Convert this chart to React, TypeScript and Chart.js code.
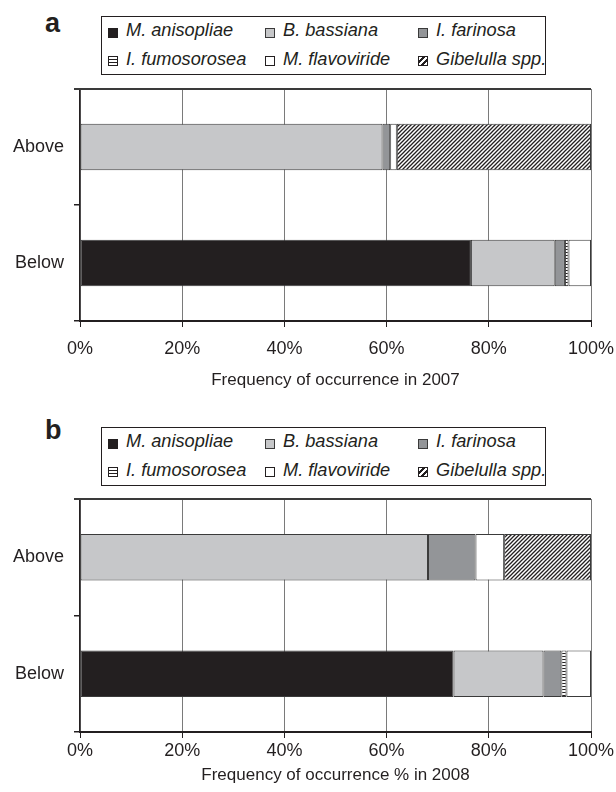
import React, { useEffect, useRef } from "react";
import { Chart, registerables } from "chart.js";

Chart.register(...registerables);

// ---------- data ----------
const categories = ["Above", "Below"];
const speciesNames = [
  "M. anisopliae",
  "B. bassiana",
  "I. farinosa",
  "I. fumosorosea",
  "M. flavoviride",
  "Gibelulla spp.",
];

// 2007, percent of occurrence [Above, Below]
const anisopliae2007 = [0, 76.5];
const bassiana2007 = [59.2, 16.4];
const farinosa2007 = [1.5, 2.0];
const fumosorosea2007 = [0, 0.7];
const flavoviride2007 = [1.3, 4.4];
const gibelulla2007 = [38.0, 0];

// 2008, percent of occurrence [Above, Below]
const anisopliae2008 = [0, 73.1];
const bassiana2008 = [68.1, 17.6];
const farinosa2008 = [9.3, 3.5];
const fumosorosea2008 = [0, 1.0];
const flavoviride2008 = [5.6, 4.8];
const gibelulla2008 = [17.0, 0];

const xMin = 0;
const xMax = 100;
const xStep = 20;

const title2007 = "Frequency of occurrence in 2007";
const title2008 = "Frequency of occurrence % in 2008";

// ---------- styles ----------
const INK = "#231f20";
const FRAME = "#3a3a3a";
const FONT = "Arial, 'Liberation Sans', Helvetica, sans-serif";
Chart.defaults.font.family = FONT;
Chart.defaults.color = INK;

function makeHatch(): CanvasPattern | string {
  const c = document.createElement("canvas");
  c.width = 4;
  c.height = 4;
  const g = c.getContext("2d");
  if (!g) return "#888";
  g.fillStyle = "#ffffff";
  g.fillRect(0, 0, 4, 4);
  g.strokeStyle = INK;
  g.lineWidth = 1.3;
  g.beginPath();
  g.moveTo(0, 4);
  g.lineTo(4, 0);
  g.moveTo(-1, 1);
  g.lineTo(1, -1);
  g.moveTo(3, 5);
  g.lineTo(5, 3);
  g.stroke();
  return g.createPattern(c, "repeat") || "#888";
}

function makeHLines(): CanvasPattern | string {
  const c = document.createElement("canvas");
  c.width = 3;
  c.height = 3;
  const g = c.getContext("2d");
  if (!g) return "#ddd";
  g.fillStyle = "#ffffff";
  g.fillRect(0, 0, 3, 3);
  g.fillStyle = INK;
  g.fillRect(0, 1, 3, 1);
  return g.createPattern(c, "repeat") || "#ddd";
}

// draws the top edge of the plot frame (and its tick)
const topFrame = {
  id: "topFrame",
  afterDraw(chart: any) {
    const ctx = chart.ctx;
    const area = chart.chartArea;
    if (!ctx || !area) return;
    ctx.save();
    ctx.strokeStyle = FRAME;
    ctx.lineWidth = 2;
    ctx.beginPath();
    ctx.moveTo(area.left - 6, area.top);
    ctx.lineTo(area.right, area.top);
    ctx.stroke();
    ctx.restore();
  },
};

type PanelProps = {
  series: number[][];
  title: string;
  top: number;
  height: number;
  axisHeight: number;
  labelPad: number;
  titlePad: number;
};

function Panel({ series, title, top, height, axisHeight, labelPad, titlePad }: PanelProps) {
  const ref = useRef<HTMLCanvasElement>(null);
  useEffect(() => {
    if (!ref.current) return;
    const fills: any[] = ["#231f20", "#c6c7c9", "#939598", makeHLines(), "#ffffff", makeHatch()];
    const chart = new Chart(ref.current, {
      type: "bar",
      data: {
        labels: categories,
        datasets: speciesNames.map((name, i) => ({
          label: name,
          data: series[i].map((v) => (v === 0 ? null : v)) as any,
          backgroundColor: fills[i],
          borderColor: FRAME,
          borderWidth: 1,
          borderSkipped: false,
          barPercentage: 0.4,
          categoryPercentage: 1,
          inflateAmount: 0,
        })),
      },
      options: {
        indexAxis: "y",
        responsive: false,
        animation: false,
        layout: { padding: { top: 9, right: 25, left: 0, bottom: 0 } },
        plugins: { legend: { display: false }, tooltip: { enabled: false } },
        scales: {
          x: {
            stacked: true,
            min: xMin,
            max: xMax,
            ticks: {
              stepSize: xStep,
              callback: (v: any) => v + "%",
              padding: labelPad,
              color: INK,
              font: { size: 18 },
            },
            grid: { color: "#7a7a7a", lineWidth: 1, tickLength: 6, tickColor: INK },
            border: { color: INK, width: 2 },
            title: {
              display: true,
              text: title,
              color: INK,
              font: { size: 17 },
              padding: { top: 0, bottom: titlePad },
            },
            afterFit: (s: any) => {
              s.height = axisHeight;
              s.paddingLeft = 0;
              s.paddingRight = 0;
            },
          },
          y: {
            stacked: true,
            ticks: { padding: 10, color: INK, font: { size: 18 } },
            grid: {
              offset: true,
              drawOnChartArea: false,
              lineWidth: 1.5,
              tickLength: 6,
              tickColor: INK,
            },
            border: { color: INK, width: 1.5 },
            afterFit: (s: any) => {
              s.width = 80;
              s.paddingTop = 0;
              s.paddingBottom = 0;
            },
          },
        },
      } as any,
      plugins: [topFrame],
    });
    return () => chart.destroy();
  }, []);
  return (
    <canvas
      ref={ref}
      width={616}
      height={height}
      style={{ position: "absolute", left: 0, top, width: 616, height, display: "block" }}
    />
  );
}

const markerStyles: React.CSSProperties[] = [
  { background: INK, border: `1px solid ${INK}` },
  { background: "#c6c7c9", border: `1px solid ${FRAME}` },
  { background: "#939598", border: `1px solid ${FRAME}` },
  {
    background: `repeating-linear-gradient(to bottom, #fff 0px, #fff 2px, ${INK} 2px, ${INK} 3px)`,
    border: `1px solid ${INK}`,
  },
  { background: "#fff", border: `1px solid ${INK}` },
  {
    background: `repeating-linear-gradient(135deg, #fff 0px, #fff 2.5px, ${INK} 2.5px, ${INK} 4.5px)`,
    border: `1px solid ${INK}`,
  },
];

function Legend({ top }: { top: number }) {
  const cols = [7, 164, 317];
  const rowsText = [4.3, 32.6];
  const rowsMarker = [11.5, 40];
  return (
    <div
      style={{
        position: "absolute",
        left: 101,
        top,
        width: 445,
        height: 59,
        border: `1px solid ${INK}`,
        boxSizing: "border-box",
      }}
    >
      {speciesNames.map((name, i) => {
        const r = Math.floor(i / 3);
        const c = i % 3;
        return (
          <React.Fragment key={name}>
            <div
              style={{
                position: "absolute",
                left: cols[c] - 1,
                top: rowsMarker[r] - 1,
                width: 10,
                height: 10,
                boxSizing: "border-box",
                ...markerStyles[i],
              }}
            />
            <div
              style={{
                position: "absolute",
                left: cols[c] + 17,
                top: rowsText[r] - 1,
                fontFamily: FONT,
                fontStyle: "italic",
                fontSize: 18.2,
                lineHeight: "20px",
                color: INK,
                whiteSpace: "nowrap",
              }}
            >
              {name}
            </div>
          </React.Fragment>
        );
      })}
    </div>
  );
}

function PanelLetter({ text, top }: { text: string; top: number }) {
  return (
    <div
      style={{
        position: "absolute",
        left: 45,
        top,
        fontFamily: FONT,
        fontWeight: "bold",
        fontSize: 27,
        lineHeight: "27px",
        color: INK,
      }}
    >
      {text}
    </div>
  );
}

export default function App() {
  const series2007 = [anisopliae2007, bassiana2007, farinosa2007, fumosorosea2007, flavoviride2007, gibelulla2007];
  const series2008 = [anisopliae2008, bassiana2008, farinosa2008, fumosorosea2008, flavoviride2008, gibelulla2008];
  return (
    <div
      style={{
        position: "absolute",
        left: 0,
        top: 0,
        width: 616,
        height: 792,
        overflow: "hidden",
        background: "#fff",
      }}
    >
      <PanelLetter text="a" top={10} />
      <Legend top={16} />
      <Panel series={series2007} title={title2007} top={80} height={320} axisHeight={79} labelPad={11.7} titlePad={9.8} />
      <PanelLetter text="b" top={417} />
      <Legend top={427} />
      <Panel series={series2008} title={title2008} top={490} height={302} axisHeight={60} labelPad={2.7} titlePad={6.8} />
    </div>
  );
}
